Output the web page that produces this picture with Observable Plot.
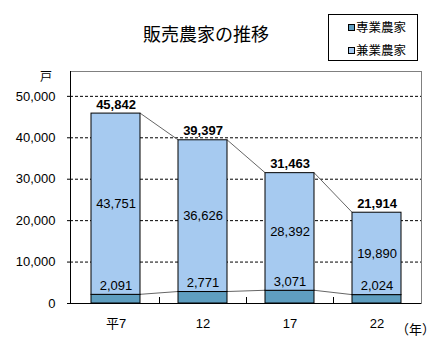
<!DOCTYPE html>
<html><head><meta charset="utf-8">
<script src="https://cdn.jsdelivr.net/npm/d3@7"></script>
<script src="https://cdn.jsdelivr.net/npm/@observablehq/plot@0.6"></script>
<style>
body{margin:0;background:#fff;}
#wrap{position:relative;width:436px;height:352px;font-family:"Liberation Sans","Noto Sans CJK JP",sans-serif;color:#000;}
#chart{position:absolute;left:0;top:0;}
.abs{position:absolute;white-space:nowrap;}
#title{left:0;width:412px;top:23px;text-align:center;font-size:18px;line-height:20px;font-family:"Noto Sans CJK JP",sans-serif;}
#legend{left:328px;top:14px;width:88px;height:45px;border:1px solid #000;background:#fff;}
.li{position:absolute;left:19px;font-size:12.5px;line-height:14px;font-family:"Noto Sans CJK JP",sans-serif;}
.sw{display:inline-block;width:5px;height:5px;border:1px solid #000;margin-right:1px;vertical-align:1px;}
#unit{left:40px;top:69px;font-size:12px;line-height:14px;font-family:"Noto Sans CJK JP",sans-serif;}
#xunit{left:396px;top:321px;font-size:13px;line-height:15px;font-family:"Noto Sans CJK JP",sans-serif;}
</style>
</head><body>
<div id="wrap">
  <div id="chart"></div>
  <div id="title" class="abs">販売農家の推移</div>
  <div id="legend" class="abs"></div>
  <div id="unit" class="abs">戸</div>
  <div id="xunit" class="abs">（年）</div>
</div>
<script>
const years = ["平7", "12", "17", "22"];
const sengyo = [2091, 2771, 3071, 2024];      // 専業農家
const kengyo = [43751, 36626, 28392, 19890];  // 兼業農家
const totals = [45842, 39397, 31463, 21914];
const types = ["専業農家", "兼業農家"];
const colors = ["#5F9EC0", "#A6CAF0"];
const yTicks = [0, 10000, 20000, 30000, 40000, 50000];

const fmt = d3.format(",");
const rows = years.flatMap((yr, i) => [
  {year: yr, type: types[0], value: sengyo[i]},
  {year: yr, type: types[1], value: kengyo[i]}
]);
const totalRows = years.map((yr, i) => ({year: yr, total: totals[i]}));
const sengyoRows = years.map((yr, i) => ({year: yr, value: sengyo[i]}));
const pairs = years.slice(0, -1).map((yr, i) => ({
  from: yr, to: years[i + 1],
  t1: totals[i], t2: totals[i + 1],
  s1: sengyo[i], s2: sengyo[i + 1]
}));

function seriesLines(k1, k2) {
  return Plot.link(pairs, {
    x1: "from", x2: "to", y1: k1, y2: k2, stroke: "#666",
    render(index, scales) {
      const x = scales.x, y = scales.y, bw = x.bandwidth();
      const g = d3.create("svg:g").attr("stroke", "#666").attr("stroke-width", 1).attr("fill", "none");
      for (const i of index) {
        const d = pairs[i];
        g.append("line")
          .attr("x1", x(d.from) + bw).attr("y1", y(d[k1]))
          .attr("x2", x(d.to)).attr("y2", y(d[k2]));
      }
      return g.node();
    }
  });
}

const axisDecor = Plot.ruleY([0], {
  render(index, scales, values, dims) {
    const x = scales.x, y = scales.y;
    const bw = x.bandwidth(), step = x.step();
    const y0 = y(0);
    const g = d3.create("svg:g").attr("stroke", "#000").attr("stroke-width", 1).attr("fill", "none");
    g.append("line").attr("x1", dims.marginLeft + 0.5).attr("x2", dims.marginLeft + 0.5)
      .attr("y1", dims.marginTop).attr("y2", y0);
    g.append("line").attr("x1", dims.marginLeft).attr("x2", dims.width - dims.marginRight)
      .attr("y1", y0 + 0.5).attr("y2", y0 + 0.5);
    years.slice(0, -1).forEach(yr => {
      const bx = Math.round(x(yr) + bw + (step - bw) / 2) + 0.5;
      g.append("line").attr("x1", bx).attr("x2", bx).attr("y1", y0).attr("y2", y0 - 6);
    });
    return g.node();
  }
});

const plot = Plot.plot({
  width: 436,
  height: 352,
  marginLeft: 70,
  marginRight: 15,
  marginTop: 71,
  marginBottom: 49,
  style: {fontFamily: '"Liberation Sans","Noto Sans CJK JP",sans-serif', fontSize: "13px", background: "transparent", color: "#000"},
  x: {domain: years, paddingInner: 0.44, paddingOuter: 0.22, label: null},
  y: {domain: [0, 56000], label: null},
  color: {domain: types, range: colors},
  marks: [
    Plot.frame({stroke: "#808080"}),
    Plot.gridY({ticks: yTicks.slice(1), stroke: "#000", strokeOpacity: 1, strokeDasharray: "3,2"}),
    seriesLines("t1", "t2"),
    seriesLines("s1", "s2"),
    Plot.barY(rows, {x: "year", y: "value", fill: "type", stroke: "#000", strokeWidth: 1}),
    axisDecor,
    Plot.axisY({ticks: yTicks, tickFormat: fmt, tickSize: 3, tickPadding: 12, fontSize: 13, label: null}),
    Plot.axisX({tickSize: 0, tickPadding: 15, fontSize: 13, label: null}),
    Plot.text(totalRows, {x: "year", y: "total", text: d => fmt(d.total), dy: -9, fontSize: 13, fontWeight: "bold"}),
    Plot.text(rows, Plot.stackY({x: "year", y: "value", text: d => d.type === types[1] ? fmt(d.value) : "", fontSize: 13})),
    Plot.text(sengyoRows, {x: "year", y: "value", text: d => fmt(d.value), dy: -9, fontSize: 13})
  ]
});
document.getElementById("chart").appendChild(plot);

const legend = document.getElementById("legend");
types.forEach((t, i) => {
  const li = document.createElement("div");
  li.className = "li";
  li.style.top = (5 + i * 23) + "px";
  const sw = document.createElement("span");
  sw.className = "sw";
  sw.style.background = colors[i];
  li.appendChild(sw);
  li.appendChild(document.createTextNode(t));
  legend.appendChild(li);
});
</script>
</body></html>
